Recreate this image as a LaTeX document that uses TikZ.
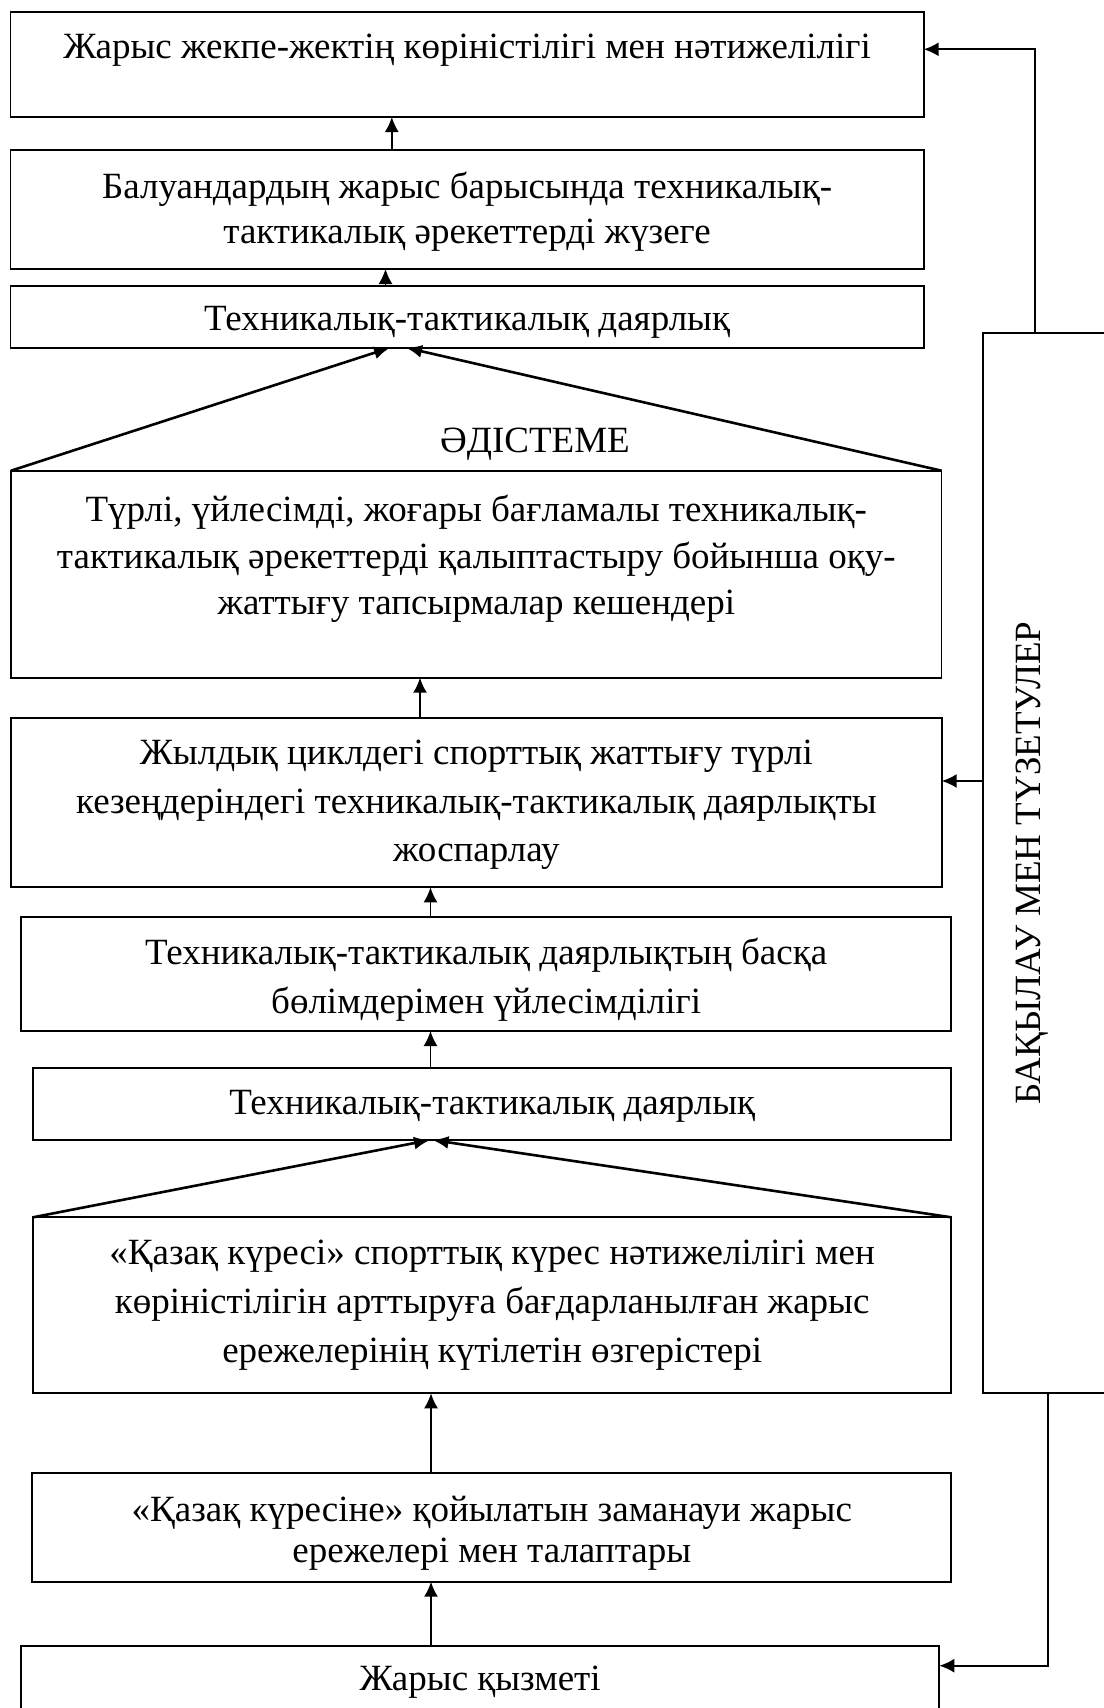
\documentclass[tikz,border=0pt]{standalone}
\usepackage{fontspec}
\setmainfont{Liberation Serif}
\usetikzlibrary{arrows.meta}
\begin{document}
\begin{tikzpicture}[x=1pt,y=-1pt,
  box/.style={draw, line width=1.7pt, inner sep=0pt, outer sep=0pt},
  txt/.style={inner sep=0pt, anchor=base, font=\fontsize{37}{45}\selectfont},
  conn/.style={line width=1.7pt, -{Latex[length=15pt,width=14pt]}},
  diag/.style={line width=2.6pt, -{Latex[length=16pt,width=13pt]}}]
\useasboundingbox (0,0) rectangle (1103,1708);
% boxes
\node[box, minimum width=913.2pt, minimum height=105.3pt] (b1) at (467.1,64.35) {};
\node[box, minimum width=913.2pt, minimum height=119.3pt] (b2) at (467.1,209.35) {};
\node[box, minimum width=913.2pt, minimum height=62pt] (b3) at (467.1,316.7) {};
\node[box, minimum width=930.5pt, minimum height=207pt] (b4) at (476.25,574.2) {};
\node[box, minimum width=930.7pt, minimum height=169pt] (b5) at (476.35,802.8) {};
\node[box, minimum width=930.3pt, minimum height=113.7pt] (b6) at (486.15,974.15) {};
\node[box, minimum width=918.3pt, minimum height=72.3pt] (b7) at (492.15,1103.85) {};
\node[box, minimum width=918.3pt, minimum height=176pt] (b8) at (492.15,1305.3) {};
\node[box, minimum width=919pt, minimum height=108.4pt] (b9) at (491.8,1527.5) {};
\node[box, minimum width=918.3pt, minimum height=74pt] (b10) at (480.15,1683) {};
\node[box, minimum width=132pt, minimum height=1060pt] (rb) at (1049,863.3) {};
% texts
\node[txt] (t1) at (467.1,58) {Жарыс жекпе-жектің көріністілігі мен нәтижелілігі};
\node[txt] (t2a) at (467.1,198) {Балуандардың жарыс барысында техникалық-};
\node[txt] (t2b) at (467.1,243) {тактикалық әрекеттерді жүзеге};
\node[txt] (t3) at (467.1,330) {Техникалық-тактикалық даярлық};
\node[txt] (tm) at (535,452) {ӘДІСТЕМЕ};
\node[txt] (t4a) at (476.25,521) {Түрлі, үйлесімді, жоғары бағламалы техникалық-};
\node[txt] (t4b) at (476.25,568) {тактикалық әрекеттерді қалыптастыру бойынша оқу-};
\node[txt] (t4c) at (476.25,614) {жаттығу тапсырмалар кешендері};
\node[txt] (t5a) at (476.35,764) {Жылдық циклдегі спорттық жаттығу түрлі};
\node[txt] (t5b) at (476.35,813) {кезеңдеріндегі техникалық-тактикалық даярлықты};
\node[txt] (t5c) at (476.35,861) {жоспарлау};
\node[txt] (t6a) at (486.15,964) {Техникалық-тактикалық даярлықтың басқа};
\node[txt] (t6b) at (486.15,1013) {бөлімдерімен үйлесімділігі};
\node[txt] (t7) at (492.15,1114) {Техникалық-тактикалық даярлық};
\node[txt] (t8a) at (492.15,1264) {«Қазақ күресі» спорттық күрес нәтижелілігі мен};
\node[txt] (t8b) at (492.15,1313) {көріністілігін арттыруға бағдарланылған жарыс};
\node[txt] (t8c) at (492.15,1362) {ережелерінің күтілетін өзгерістері};
\node[txt] (t9a) at (491.8,1521) {«Қазақ күресіне» қойылатын заманауи жарыс};
\node[txt] (t9b) at (491.8,1562) {ережелері мен талаптары};
\node[txt] (t10) at (480.15,1690) {Жарыс қызметі};
\node[txt, rotate=90] (tv) at (1040,863.3) {БАҚЫЛАУ МЕН ТҮЗЕТУЛЕР};
% x positions
\coordinate (x1) at (391.8,0);
\coordinate (x2) at (385.5,0);
\coordinate (xa) at (390,0);
\coordinate (xb) at (406,0);
\coordinate (x3) at (420,0);
\coordinate (x4) at (430.5,0);
\coordinate (xc) at (430,0);
\coordinate (xd) at (432.5,0);
\coordinate (x5) at (431,0);
\coordinate (f1) at (1035,49.3);
\coordinate (f2) at (0,781);
\coordinate (f3) at (1047.7,1665.7);
% vertical arrows
\draw[conn] (b2.north -| x1) -- (b1.south -| x1);
\draw[conn] (b3.north -| x2) -- (b2.south -| x2);
\draw[diag] (b4.north west) -- (b3.south -| xa);
\draw[diag] (b4.north east) -- (b3.south -| xb);
\draw[conn] (b5.north -| x3) -- (b4.south -| x3);
\draw[conn] (b6.north -| x4) -- (b5.south -| x4);
\draw[conn] (b7.north -| x4) -- (b6.south -| x4);
\draw[diag] (b8.north west) -- (b7.south -| xc);
\draw[diag] (b8.north east) -- (b7.south -| xd);
\draw[conn] (b9.north -| x5) -- (b8.south -| x5);
\draw[conn] (b10.north -| x5) -- (b9.south -| x5);
% feedback
\draw[conn] (rb.north -| f1) -- (f1) -- (b1.east |- f1);
\draw[conn] (rb.west |- f2) -- (b5.east |- f2);
\draw[conn] (rb.south -| f3) -- (f3) -- (b10.east |- f3);
\end{tikzpicture}
\end{document}
